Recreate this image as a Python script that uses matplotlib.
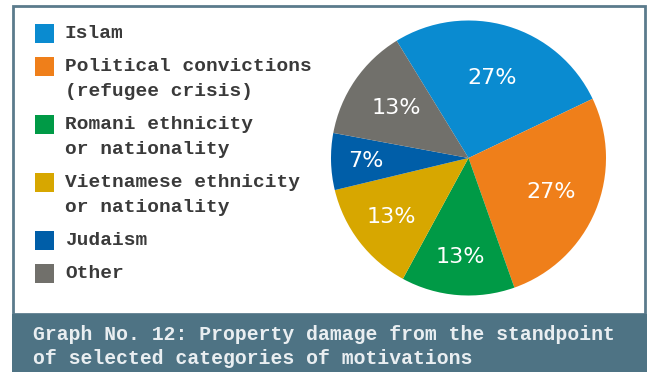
import matplotlib
matplotlib.use('Agg')
import matplotlib.pyplot as plt
from matplotlib.patches import Rectangle
import math

categories = ["Islam",
              "Political convictions\n(refugee crisis)",
              "Romani ethnicity\nor nationality",
              "Vietnamese ethnicity\nor nationality",
              "Judaism",
              "Other"]
counts = [4, 4, 2, 2, 1, 2]
colors = ["#0a8bd0", "#ef7f1a", "#009a46", "#d7a700", "#005ea8", "#71706b"]
caption = ["Graph No. 12: Property damage from the standpoint",
           "of selected categories of motivations"]

# style
label_dist = [0.61, 0.65, 0.72, 0.71, 0.75, 0.64]
W, H = 648, 372
MONO = "Liberation Mono"

fig = plt.figure(figsize=(W / 100, H / 100), dpi=100)
fig.patch.set_facecolor("white")

def fx(x):
    return x / W

def fy(y):
    return 1 - y / H

# frame
frame_col = "#5b7b8c"
fig.patches.append(Rectangle((fx(12.5), fy(314)), fx(645) - fx(12.5), fy(6) - fy(314),
                             transform=fig.transFigure, fill=False,
                             edgecolor=frame_col, linewidth=2.0, zorder=1))
# caption band
fig.patches.append(Rectangle((fx(11.5), 0), fx(646.5) - fx(11.5), fy(314),
                             transform=fig.transFigure, facecolor="#4e7384",
                             edgecolor="none", zorder=2))
for i, line in enumerate(caption):
    fig.text(fx(33), fy(334 + 24.5 * i), line, family=MONO, fontsize=14.2,
             fontweight="bold", color="#e9eef1", ha="left", va="center", zorder=3)

# legend
y = 33.5
for cat, col in zip(categories, colors):
    fig.patches.append(Rectangle((fx(35), fy(y + 9.5)), fx(19), 19 / H,
                                 transform=fig.transFigure, facecolor=col,
                                 edgecolor="none", zorder=3))
    lines = cat.split("\n")
    for j, ln in enumerate(lines):
        fig.text(fx(65), fy(y + 25 * j), ln, family=MONO, fontsize=14,
                 fontweight="bold", color="#3a3a3a", ha="left", va="center")
    y += 33 + 25 * (len(lines) - 1)

# pie
cx, cy, r = 468.5, 158, 137.5
ax = fig.add_axes([fx(cx - r), fy(cy + r), 2 * r / W, 2 * r / H])
wedges, texts, autotexts = ax.pie(counts, colors=colors, startangle=121.5,
                                  counterclock=False, radius=1,
                                  autopct=lambda p: f"{p:.0f}%",
                                  wedgeprops=dict(linewidth=0),
                                  textprops=dict(color="white", fontsize=16,
                                                 family="DejaVu Sans"))
for w, t, d in zip(wedges, autotexts, label_dist):
    th = math.radians((w.theta1 + w.theta2) / 2)
    t.set_position((d * math.cos(th), d * math.sin(th)))
    t.set_ha("center")
    t.set_va("center")
ax.set_xlim(-1, 1)
ax.set_ylim(-1, 1)
ax.set_aspect("equal")
ax.axis("off")

fig.savefig("out.png", dpi=100)
